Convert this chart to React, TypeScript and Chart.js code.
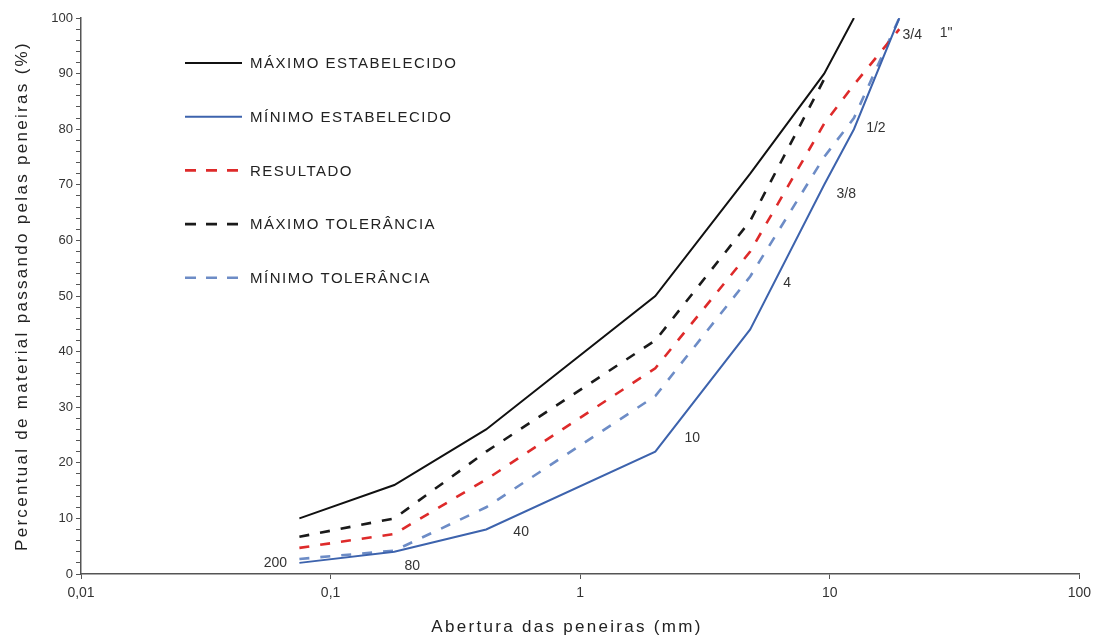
import React, { useEffect, useRef } from "react";
import { Chart, registerables } from "chart.js";
Chart.register(...registerables);

// ---- data ----
const sieveNames = ["200", "80", "40", "10", "4", "3/8", "1/2", "3/4"];
const sieveOpenings = [0.075, 0.18, 0.42, 2.0, 4.8, 9.5, 12.5, 19.0];
const extraSieveName = '1"';
const extraSieveOpening = 25;
const maxSpec = [10, 16, 26, 50, 72, 90, 100, null];
const minSpec = [2, 4, 8, 22, 44, 70, 80, 100];
const result = [4.7, 7.2, 17, 37, 58, 81, 88, 98];
const maxTol = [6.7, 10, 22, 42, 63.5, 89, null, null];
const minTol = [2.7, 4.2, 12, 32, 53.5, 75, 82, 100];
const seriesLabels = [
  "MÁXIMO ESTABELECIDO",
  "MÍNIMO ESTABELECIDO",
  "RESULTADO",
  "MÁXIMO TOLERÂNCIA",
  "MÍNIMO TOLERÂNCIA",
];
const xTicks = [0.01, 0.1, 1, 10, 100];
const xTickLabels = ["0,01", "0,1", "1", "10", "100"];
const yTitle = "Percentual de material passando pelas peneiras (%)";
const xTitle = "Abertura das peneiras (mm)";

const FONT = "'Liberation Sans', Arial, sans-serif";

function toPoints(values: (number | null)[]) {
  return sieveOpenings
    .map((x, i) => ({ x, y: values[i] }))
    .filter((p) => p.y !== null) as { x: number; y: number }[];
}

// label offsets (px) relative to the minimum-spec point of each sieve
const sieveLabelOffsets = [
  [-24, 0],
  [18, 14],
  [35, 3],
  [37, -14],
  [37, -46],
  [22, 9],
  [22, -1],
  [13, 17],
];
const extraLabelOffset = [17, 15];

const legendPlugin = {
  id: "customLegend",
  afterDatasetsDraw(chart: any) {
    const ctx = chart.ctx;
    ctx.save();
    chart.data.datasets.forEach((ds: any, i: number) => {
      const y = 63 + i * 53.7;
      ctx.beginPath();
      ctx.strokeStyle = ds.borderColor;
      ctx.lineWidth = ds.borderWidth;
      ctx.setLineDash(ds.borderDash && ds.borderDash.length ? [11, 10] : []);
      ctx.moveTo(185, y);
      ctx.lineTo(242, y);
      ctx.stroke();
      ctx.setLineDash([]);
      ctx.fillStyle = "#222";
      ctx.font = `15px ${FONT}`;
      (ctx as any).letterSpacing = "1.5px";
      ctx.textBaseline = "middle";
      ctx.textAlign = "left";
      ctx.fillText(ds.label, 250, y + 1);
      (ctx as any).letterSpacing = "0px";
    });
    ctx.restore();
  },
};

const sieveLabelPlugin = {
  id: "sieveLabels",
  afterDatasetsDraw(chart: any) {
    const ctx = chart.ctx;
    const xs = chart.scales.x;
    const ys = chart.scales.y;
    ctx.save();
    ctx.fillStyle = "#333";
    ctx.font = `14px ${FONT}`;
    ctx.textAlign = "center";
    ctx.textBaseline = "middle";
    sieveNames.forEach((name, i) => {
      const px = xs.getPixelForValue(sieveOpenings[i]);
      const py = ys.getPixelForValue(minSpec[i] as number);
      ctx.fillText(name, px + sieveLabelOffsets[i][0], py + sieveLabelOffsets[i][1]);
    });
    const ex = xs.getPixelForValue(extraSieveOpening);
    const ey = ys.getPixelForValue(100);
    ctx.fillText(extraSieveName, ex + extraLabelOffset[0], ey + extraLabelOffset[1]);
    ctx.restore();
  },
};

const titlesPlugin = {
  id: "axisTitles",
  afterDraw(chart: any) {
    const ctx = chart.ctx;
    const area = chart.chartArea;
    ctx.save();
    ctx.fillStyle = "#222";
    ctx.font = `17px ${FONT}`;
    (ctx as any).letterSpacing = "2.3px";
    ctx.textAlign = "center";
    ctx.textBaseline = "middle";
    ctx.fillText(xTitle, 567, 627);
    ctx.translate(22, (area.top + area.bottom) / 2);
    ctx.rotate(-Math.PI / 2);
    ctx.fillText(yTitle, 0, 0);
    (ctx as any).letterSpacing = "0px";
    ctx.restore();
  },
};

export default function App() {
  const ref = useRef<HTMLCanvasElement | null>(null);
  useEffect(() => {
    if (!ref.current) return;
    const chart = new Chart(ref.current, {
      type: "line",
      data: {
        datasets: [
          {
            label: seriesLabels[0],
            data: toPoints(maxSpec),
            borderColor: "#111111",
            borderWidth: 2,
            borderDash: [],
          },
          {
            label: seriesLabels[1],
            data: toPoints(minSpec),
            borderColor: "#3d63ad",
            borderWidth: 2,
            borderDash: [],
          },
          {
            label: seriesLabels[2],
            data: toPoints(result),
            borderColor: "#de2a2a",
            borderWidth: 2.6,
            borderDash: [10, 11],
          },
          {
            label: seriesLabels[3],
            data: toPoints(maxTol),
            borderColor: "#1a1a1a",
            borderWidth: 2.6,
            borderDash: [10, 11],
          },
          {
            label: seriesLabels[4],
            data: toPoints(minTol),
            borderColor: "#6d8cc6",
            borderWidth: 2.6,
            borderDash: [10, 11],
          },
        ] as any,
      },
      options: {
        animation: false,
        responsive: false,
        layout: { padding: { top: 18, right: 17, left: 0, bottom: 0 } },
        elements: { point: { radius: 0 }, line: { tension: 0 } },
        plugins: {
          legend: { display: false },
          tooltip: { enabled: false },
        },
        scales: {
          x: {
            type: "logarithmic",
            min: 0.01,
            max: 100,
            afterBuildTicks: (s: any) => {
              s.ticks = xTicks.map((v) => ({ value: v }));
            },
            afterFit: (s: any) => {
              s.height = 63;
            },
            ticks: {
              autoSkip: false,
              maxRotation: 0,
              padding: 6,
              color: "#333",
              font: { family: FONT, size: 14 },
              callback: (_v: any, i: number) => xTickLabels[i],
            },
            grid: {
              drawOnChartArea: false,
              drawTicks: true,
              tickLength: 5,
              color: "#555",
            },
            border: { display: true, color: "#555", width: 1.5 },
          },
          y: {
            type: "linear",
            min: 0,
            max: 100,
            afterFit: (s: any) => {
              s.width = 81;
            },
            ticks: {
              stepSize: 2,
              autoSkip: false,
              padding: 3,
              color: "#333",
              font: { family: FONT, size: 13 },
              callback: (v: any) => (Number(v) % 10 === 0 ? String(v) : ""),
            },
            grid: {
              drawOnChartArea: false,
              drawTicks: true,
              tickLength: 5,
              color: "#555",
            },
            border: { display: true, color: "#555", width: 1.5 },
          },
        },
      } as any,
      plugins: [legendPlugin, sieveLabelPlugin, titlesPlugin],
    });
    return () => chart.destroy();
  }, []);
  return (
    <canvas
      ref={ref}
      width={1097}
      height={637}
      style={{ position: "absolute", left: 0, top: 0, display: "block", background: "#fff" }}
    />
  );
}
